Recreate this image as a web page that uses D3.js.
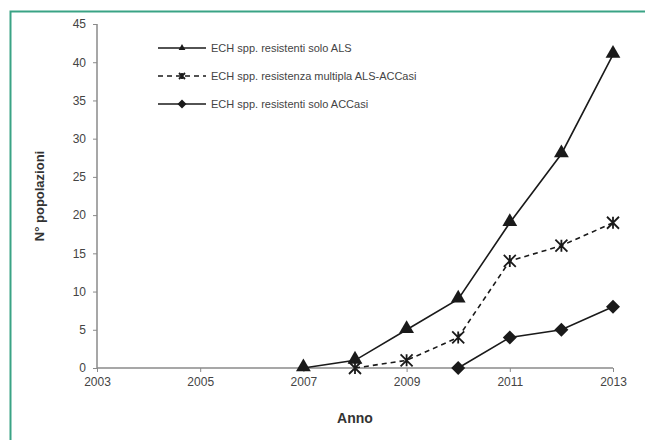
<!DOCTYPE html>
<html><head><meta charset="utf-8">
<script src="https://cdn.jsdelivr.net/npm/d3@7"></script>
<style>body{margin:0;background:#fff}svg{display:block}</style>
</head><body>
<script>
const xTicks = [2003, 2005, 2007, 2009, 2011, 2013];
const yTicks = [0, 5, 10, 15, 20, 25, 30, 35, 40, 45];
const yearsALS = [2007, 2008, 2009, 2010, 2011, 2012, 2013];
const valuesALS = [0, 1, 5, 9, 19, 28, 41];
const yearsMulti = [2008, 2009, 2010, 2011, 2012, 2013];
const valuesMulti = [0, 1, 4, 14, 16, 19];
const yearsACC = [2010, 2011, 2012, 2013];
const valuesACC = [0, 4, 5, 8];
const seriesNames = ["ECH spp. resistenti solo ALS", "ECH spp. resistenza multipla ALS-ACCasi", "ECH spp. resistenti solo ACCasi"];

const W = 645, H = 440;
const svg = d3.select("body").append("svg").attr("width", W).attr("height", H);
svg.append("rect").attr("width", W).attr("height", H).attr("fill", "#fff");
svg.append("path").attr("d", "M10.5,440 L10.5,11.5 L645,11.5").attr("fill", "none").attr("stroke", "#3aa385").attr("stroke-width", 2);

const x = d3.scaleLinear().domain([2003, 2013]).range([97, 613]);
const y = d3.scaleLinear().domain([0, 45]).range([368, 24]);
const font = "Liberation Sans, Arial, sans-serif";
const ink = "#1a1a1a";

const gy = svg.append("g").attr("transform", "translate(97,0)")
  .call(d3.axisLeft(y).tickValues(yTicks).tickFormat(d3.format("d")).tickSize(4).tickPadding(7));
const gx = svg.append("g").attr("transform", "translate(0,368)")
  .call(d3.axisBottom(x).tickValues(xTicks).tickFormat(d3.format("d")).tickSize(4).tickPadding(5));
[gx, gy].forEach(g => {
  g.select(".domain").attr("stroke", "#8a8a8a").attr("stroke-width", 1.5);
  g.selectAll(".tick line").attr("stroke", "#8a8a8a");
  g.selectAll(".tick text").attr("fill", "#444").attr("font-family", font).attr("font-size", 12);
});
gx.select(".domain").attr("d", "M97,0H613");
gy.select(".domain").attr("d", "M0,24V368");

svg.append("text").attr("x", 355).attr("y", 423).attr("text-anchor", "middle")
  .attr("font-family", font).attr("font-size", 14).attr("font-weight", "bold").attr("fill", "#333").text("Anno");
svg.append("text").attr("transform", "translate(44,196) rotate(-90)").attr("text-anchor", "middle")
  .attr("font-family", font).attr("font-size", 13).attr("font-weight", "bold").attr("fill", "#333").text("N° popolazioni");

const line = d3.line().x(d => x(d[0])).y(d => y(d[1]));
const zip = (a, b) => a.map((v, i) => [v, b[i]]);

const tri = d3.symbol().type(d3.symbolTriangle).size(95);
function diamond(g, cx, cy, r) {
  g.append("path").attr("d", `M${cx},${cy - r}L${cx + r},${cy}L${cx},${cy + r}L${cx - r},${cy}Z`).attr("fill", ink);
}
function star(g, cx, cy, r) {
  g.append("path").attr("d", `M${cx - r},${cy - r}L${cx + r},${cy + r}M${cx - r},${cy + r}L${cx + r},${cy - r}M${cx},${cy - r}L${cx},${cy + r}`)
    .attr("stroke", ink).attr("stroke-width", 1.8).attr("fill", "none");
}

const series = [
  {data: zip(yearsALS, valuesALS), dash: null, mark: "tri"},
  {data: zip(yearsMulti, valuesMulti), dash: "5,4", mark: "star"},
  {data: zip(yearsACC, valuesACC), dash: null, mark: "dia"}
];
const plot = svg.append("g");
series.forEach(s => {
  plot.append("path").datum(s.data).attr("d", line).attr("fill", "none")
    .attr("stroke", ink).attr("stroke-width", 1.6).attr("stroke-dasharray", s.dash);
});
series.forEach(s => {
  s.data.forEach(d => {
    const cx = x(d[0]), cy = y(d[1]);
    if (s.mark === "tri") plot.append("path").attr("d", tri).attr("transform", `translate(${cx},${cy - 1})`).attr("fill", ink);
    else if (s.mark === "dia") diamond(plot, cx, cy, 7);
    else star(plot, cx, cy, 6);
  });
});

const lg = svg.append("g");
const legY = [48, 76, 104];
seriesNames.forEach((name, i) => {
  const s = series[i], ly = legY[i];
  lg.append("line").attr("x1", 158).attr("x2", 206).attr("y1", ly).attr("y2", ly)
    .attr("stroke", ink).attr("stroke-width", 1.6).attr("stroke-dasharray", s.dash);
  if (s.mark === "tri") lg.append("path").attr("d", d3.symbol().type(d3.symbolTriangle).size(20)).attr("transform", `translate(182,${ly})`).attr("fill", ink);
  else if (s.mark === "dia") diamond(lg, 182, ly, 4.5);
  else star(lg, 182, ly, 3);
  lg.append("text").attr("x", 211).attr("y", ly + 4).attr("font-family", font).attr("font-size", 11)
    .attr("fill", "#444").text(name);
});
</script>
</body></html>
